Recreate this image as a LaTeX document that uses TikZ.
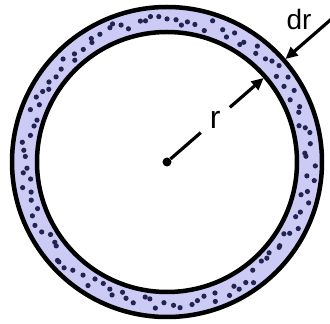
\documentclass[tikz,border=0pt]{standalone}
\usepackage{fontspec}
\setmainfont{Liberation Sans}
\usetikzlibrary{arrows.meta,calc}
\definecolor{shell}{HTML}{CBCBF6}
\definecolor{grainink}{HTML}{23234F}
\tikzset{
  every node/.style={font=\fontsize{28}{32}\selectfont},
  wall/.style={draw=black,line width=4.5pt},
  ray/.style={draw=black,line width=3.2pt},
  pointer/.style={ray,-{Triangle[length=12pt,width=11pt]}},
  grain/.style={fill=grainink},
  hub/.style={circle,fill=black,inner sep=0pt,minimum size=9pt}
}

\begin{document}
\begin{tikzpicture}[x=1pt,y=1pt]
  \useasboundingbox (0,0) rectangle (330,324);
  \coordinate (c) at (167,162);
  % Shell between the two walls, with its scattered grains.
  \fill[shell,even odd rule] (c) circle[radius=155] (c) circle[radius=130];
  \pgfmathsetseed{4127}
  \foreach \i in {1,...,118} {
    \pgfmathsetmacro\ang{\i*3.05+2.6*rnd}
    \pgfmathsetmacro\rad{136.5+rnd*12}
    \fill[grain] ($(c)+(\ang:\rad)$) circle[radius=2.6pt];
  }
  \draw[wall] (c) circle[radius=155];
  \draw[wall] (c) circle[radius=130];

  % Radius r, broken round its label.
  \node[hub] (centre) at (c) {};
  \coordinate (rtip) at ($(c)+(41:128)$);
  \node[inner sep=9pt,font=\fontsize{32}{36}\selectfont] (rlabel) at ($(c)!0.5!(rtip)$) {r};
  \draw[ray] (centre) -- (rlabel);
  \draw[pointer] (rlabel) -- (rtip);

  % Thickness dr, pointing in from outside.
  \coordinate (drfar) at ($(c)+(41:218)$);
  \coordinate (drtip) at ($(c)+(41:157)$);
  \draw[pointer] (drfar) -- (drtip);
  \node (drlabel) at (299,305) {dr};
\end{tikzpicture}
\end{document}
